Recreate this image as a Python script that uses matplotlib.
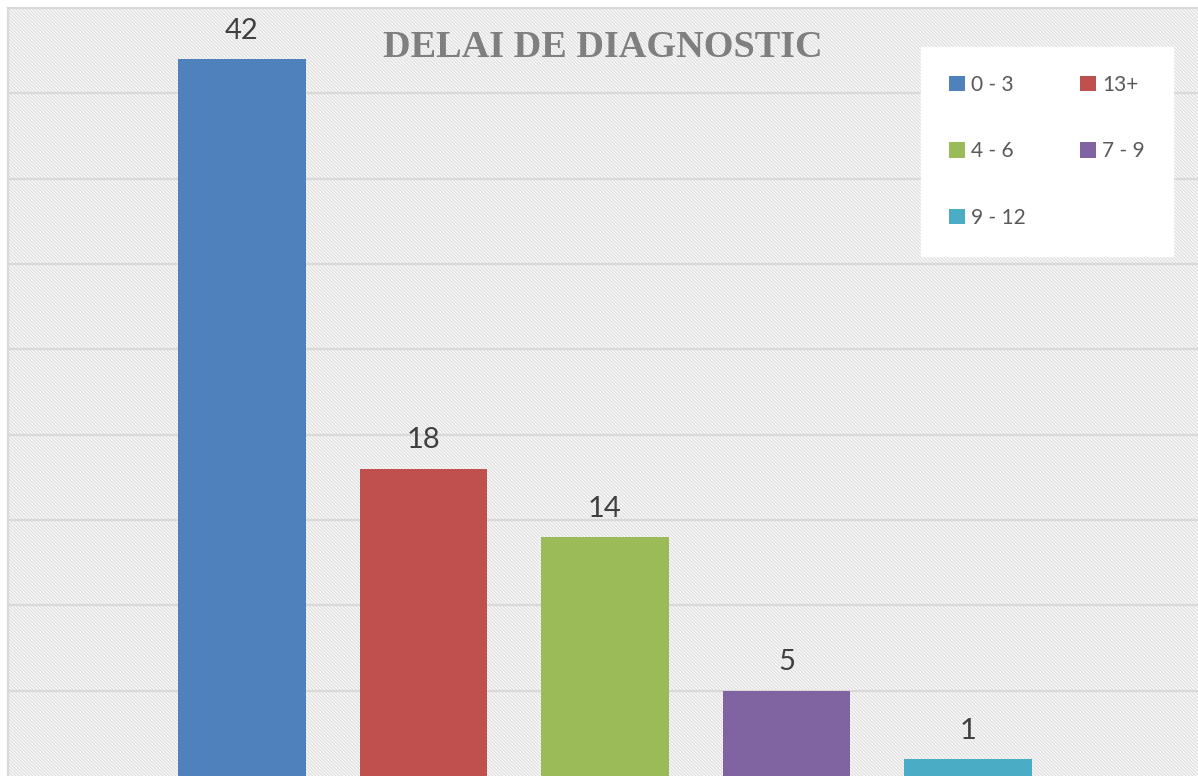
import matplotlib
matplotlib.use('Agg')
import matplotlib.pyplot as plt
from matplotlib.patches import Patch

categories = ["0 - 3", "13+", "4 - 6", "7 - 9", "9 - 12"]
values = [42, 18, 14, 5, 1]
colors = ["#4F81BD", "#C0504D", "#9BBB59", "#8064A2", "#4BACC6"]

plt.rcParams['hatch.linewidth'] = 1.0
plt.rcParams['hatch.color'] = '#e0e0e0'

fig = plt.figure(figsize=(11.98, 7.76), dpi=100)
ax = fig.add_axes([8/1198, 0, 1 - 8/1198, 1 - 8/776])
ax.patch.set_facecolor('white')
ax.patch.set_hatch('\\' * 10)
ax.patch.set_edgecolor('#e0e0e0')
ax.patch.set_linewidth(0)

x = list(range(len(values)))
bars = ax.bar(x, values, width=0.705, color=colors, zorder=3)
for xi, v in zip(x, values):
    ax.text(xi, v + 0.9, str(v), ha='center', va='bottom', fontsize=21,
            color='#404040', family='Lato', zorder=4)

ax.set_ylim(0, 45)
ax.set_xlim(-1.289, 5.267)
ax.set_yticks(range(5, 45, 5))
ax.yaxis.grid(True, color='#d9d9d9', linewidth=1.6, zorder=1)
ax.set_axisbelow(True)
ax.tick_params(left=False, bottom=False, labelleft=False, labelbottom=False)
for s in ['right', 'bottom']:
    ax.spines[s].set_visible(False)
for s in ['left', 'top']:
    ax.spines[s].set_color('#d9d9d9')
    ax.spines[s].set_linewidth(1.6)

ax.text(0.503, 0.939, "DELAI DE DIAGNOSTIC", transform=fig.transFigure,
        ha='center', va='center', fontsize=27.5, fontweight='bold',
        color='#7f7f7f', family='Liberation Serif', zorder=5)

order = [0, 2, 4, 1, 3]
handles = [Patch(facecolor=colors[i], label=categories[i]) for i in order]
leg = ax.legend(handles=handles, ncol=2, loc='upper left',
                bbox_to_anchor=(913/1190, 1 - 39/768), frameon=True,
                fancybox=False, framealpha=1, edgecolor='white',
                prop={'family': 'Lato', 'size': 15}, labelcolor='#595959',
                handlelength=0.75, handleheight=0.75, handletextpad=0.3,
                columnspacing=2.6, labelspacing=2.22, borderpad=1.35,
                borderaxespad=0)
leg.set_zorder(6)

fig.savefig('out.png', dpi=100)
